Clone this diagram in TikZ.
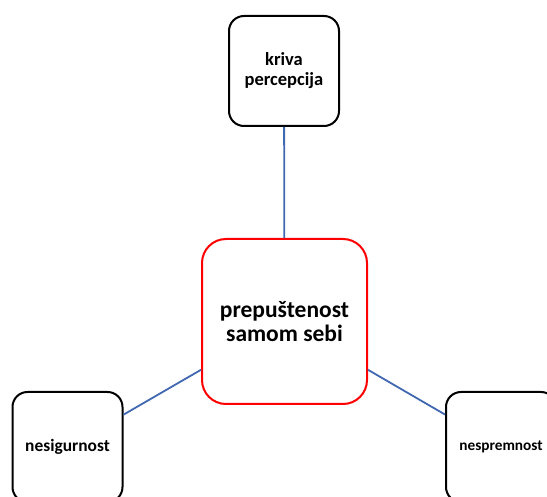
\documentclass[tikz,border=0pt]{standalone}
\usepackage{fontspec}
\setmainfont{Carlito}
\definecolor{linkblue}{HTML}{4068B0}
\definecolor{boxred}{HTML}{FF0000}
\begin{document}
\begin{tikzpicture}[x=1pt,y=-1pt,
  box/.style={draw=black,line width=2pt,rounded corners=15pt,minimum width=110pt,minimum height=110pt,inner sep=0pt,align=center,font=\bfseries,fill=white},
  hub/.style={draw=boxred,line width=2pt,rounded corners=24pt,minimum width=165pt,minimum height=165pt,inner sep=0pt,align=center,fill=white},
  link/.style={draw=linkblue,line width=1.8pt}]
\useasboundingbox (0,0) rectangle (547,497);
\node[box,font=\fontsize{18.5}{20}\selectfont\bfseries] (top) at (284,71) {kriva\\percepcija};
\node[hub,font=\fontsize{23.5}{24}\selectfont\bfseries] (hub) at (284.5,321.5) {prepuštenost\\samom sebi};
\node[box,font=\fontsize{17.4}{19}\selectfont\bfseries] (left) at (67.5,447) {nesigurnost};
\node[box,font=\fontsize{15.3}{16}\selectfont\bfseries] (right) at (501,447) {nespremnost};
\draw[link] (top) -- (hub);
\draw[link] (left) -- (hub);
\draw[link] (right) -- (hub);
\end{tikzpicture}
\end{document}
